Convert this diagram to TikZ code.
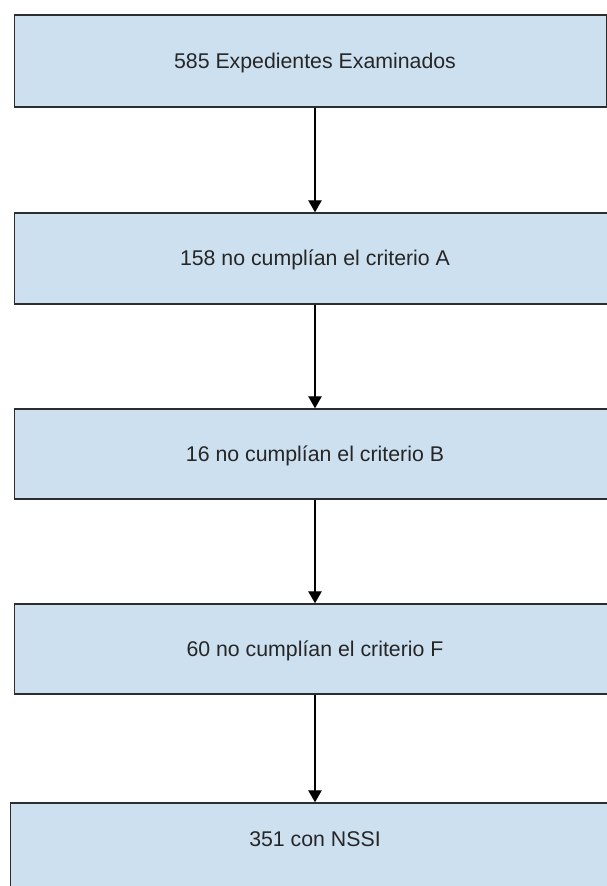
\documentclass[tikz,border=0pt]{standalone}
\usepackage{fontspec}
\setmainfont{Liberation Sans}
\usetikzlibrary{arrows.meta}
\definecolor{boxfill}{RGB}{205,224,240}
\definecolor{boxline}{RGB}{45,45,45}
\begin{document}
\begin{tikzpicture}[x=1pt,y=-1pt,
  stagebox/.style={draw=boxline,fill=boxfill,line width=1.5pt,inner sep=0pt},
  stagetext/.style={font=\fontsize{21.3}{25}\selectfont,text=black!85,inner sep=0pt},
  flow/.style={line width=1.2pt,draw=black,-{Triangle[width=13.5pt,length=12pt]}}]
\useasboundingbox (0,0) rectangle (607,886);
\clip (0,0) rectangle (607,886);
\fill[white] (0,0) rectangle (607,886);
\node[stagebox,minimum width=592pt,minimum height=92pt] (b1) at (310.5,61) {};
\node[stagebox,minimum width=600.5pt,minimum height=91pt] (b2) at (314.75,258.5) {};
\node[stagebox,minimum width=600.5pt,minimum height=90pt] (b3) at (314.75,454) {};
\node[stagebox,minimum width=600.5pt,minimum height=90pt] (b4) at (314.75,649) {};
\node[stagebox,minimum width=604.5pt,minimum height=100pt] (b5) at (312.75,853) {};
\node[stagetext] (t1) at (315,62.5) {585 Expedientes Examinados};
\node[stagetext] (t2) at (315,259.5) {158 no cumplían el criterio A};
\node[stagetext] (t3) at (315,455.5) {16 no cumplían el criterio B};
\node[stagetext] (t4) at (315,650.5) {60 no cumplían el criterio F};
\node[stagetext] (t5) at (315,839.5) {351 con NSSI};
\draw[flow] (b1.south -| t1) -- (b2.north -| t1);
\draw[flow] (b2.south -| t2) -- (b3.north -| t2);
\draw[flow] (b3.south -| t3) -- (b4.north -| t3);
\draw[flow] (b4.south -| t4) -- (b5.north -| t4);
\end{tikzpicture}
\end{document}
